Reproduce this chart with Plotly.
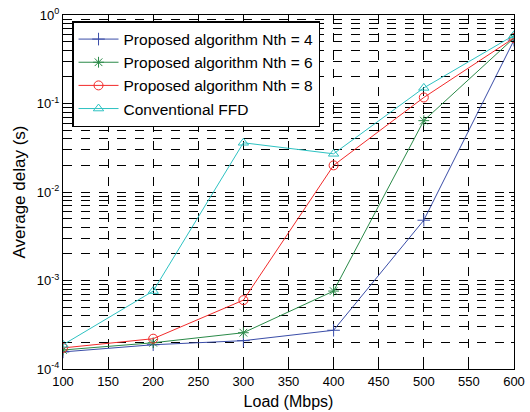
import plotly.graph_objects as go

load = [100, 200, 300, 400, 500, 600]
nth4 = [1.56e-4, 1.88e-4, 2.09e-4, 2.74e-4, 4.8e-3, 0.52]
nth6 = [1.64e-4, 1.98e-4, 2.57e-4, 7.6e-4, 0.064, 0.55]
nth8 = [1.73e-4, 2.2e-4, 6.0e-4, 0.020, 0.117, 0.55]
ffd = [1.88e-4, 7.6e-4, 0.036, 0.027, 0.150, 0.59]

names = ["Proposed algorithm Nth = 4", "Proposed algorithm Nth = 6",
         "Proposed algorithm Nth = 8", "Conventional FFD"]
colors = ["#3A4DA8", "#2A8A48", "#F22A2A", "#2EC2C2"]
symbols = ["cross-thin-open", "asterisk-open", "circle-open", "triangle-up-open"]
series = [nth4, nth6, nth8, ffd]

ytickvals = [1e-4, 1e-3, 1e-2, 1e-1, 1]
yticktext = ["10<sup>-4</sup>", "10<sup>-3</sup>", "10<sup>-2</sup>", "10<sup>-1</sup>", "10<sup>0</sup>"]

fig = go.Figure()
for n, c, s, d in zip(names, colors, symbols, series):
    fig.add_trace(go.Scatter(
        x=load, y=d, name=n, mode="lines+markers",
        line=dict(color=c, width=1),
        marker=dict(symbol=s, size=9, color=c, line=dict(color=c, width=1)),
    ))

fig.update_layout(
    width=530, height=412,
    margin=dict(l=63, r=16, t=15, b=43),
    paper_bgcolor="white", plot_bgcolor="white",
    font=dict(family="Liberation Sans, Arial", size=13, color="black"),
    showlegend=True,
    legend=dict(x=0.02, y=0.983, xanchor="left", yanchor="top",
                bgcolor="white", bordercolor="black", borderwidth=1.5,
                font=dict(size=15.5), tracegroupgap=0, itemwidth=40),
)
fig.update_xaxes(
    range=[100, 600], dtick=50, tick0=100, automargin=False,
    showline=True, linecolor="black", linewidth=1, mirror="ticks",
    ticks="inside", ticklen=5, tickcolor="black",
    showgrid=True, gridcolor="black", griddash="dash", gridwidth=1,
    zeroline=False,
    title=dict(text="Load (Mbps)", font=dict(size=16), standoff=8),
)
fig.update_yaxes(
    type="log", range=[-4, 0], automargin=False,
    tickvals=ytickvals, ticktext=yticktext,
    showline=True, linecolor="black", linewidth=1, mirror="ticks",
    ticks="inside", ticklen=5, tickcolor="black",
    showgrid=True, gridcolor="black", griddash="dash", gridwidth=1,
    minor=dict(dtick="D1", showgrid=True, gridcolor="black", griddash="dash",
               gridwidth=1, ticks="inside", ticklen=3, tickcolor="black"),
    zeroline=False,
    title=dict(text="Average delay (s)", font=dict(size=17), standoff=6),
)

fig.write_html("out.html", config={"displayModeBar": False},
               post_script="document.body.style.margin='0';document.body.style.padding='0';")
